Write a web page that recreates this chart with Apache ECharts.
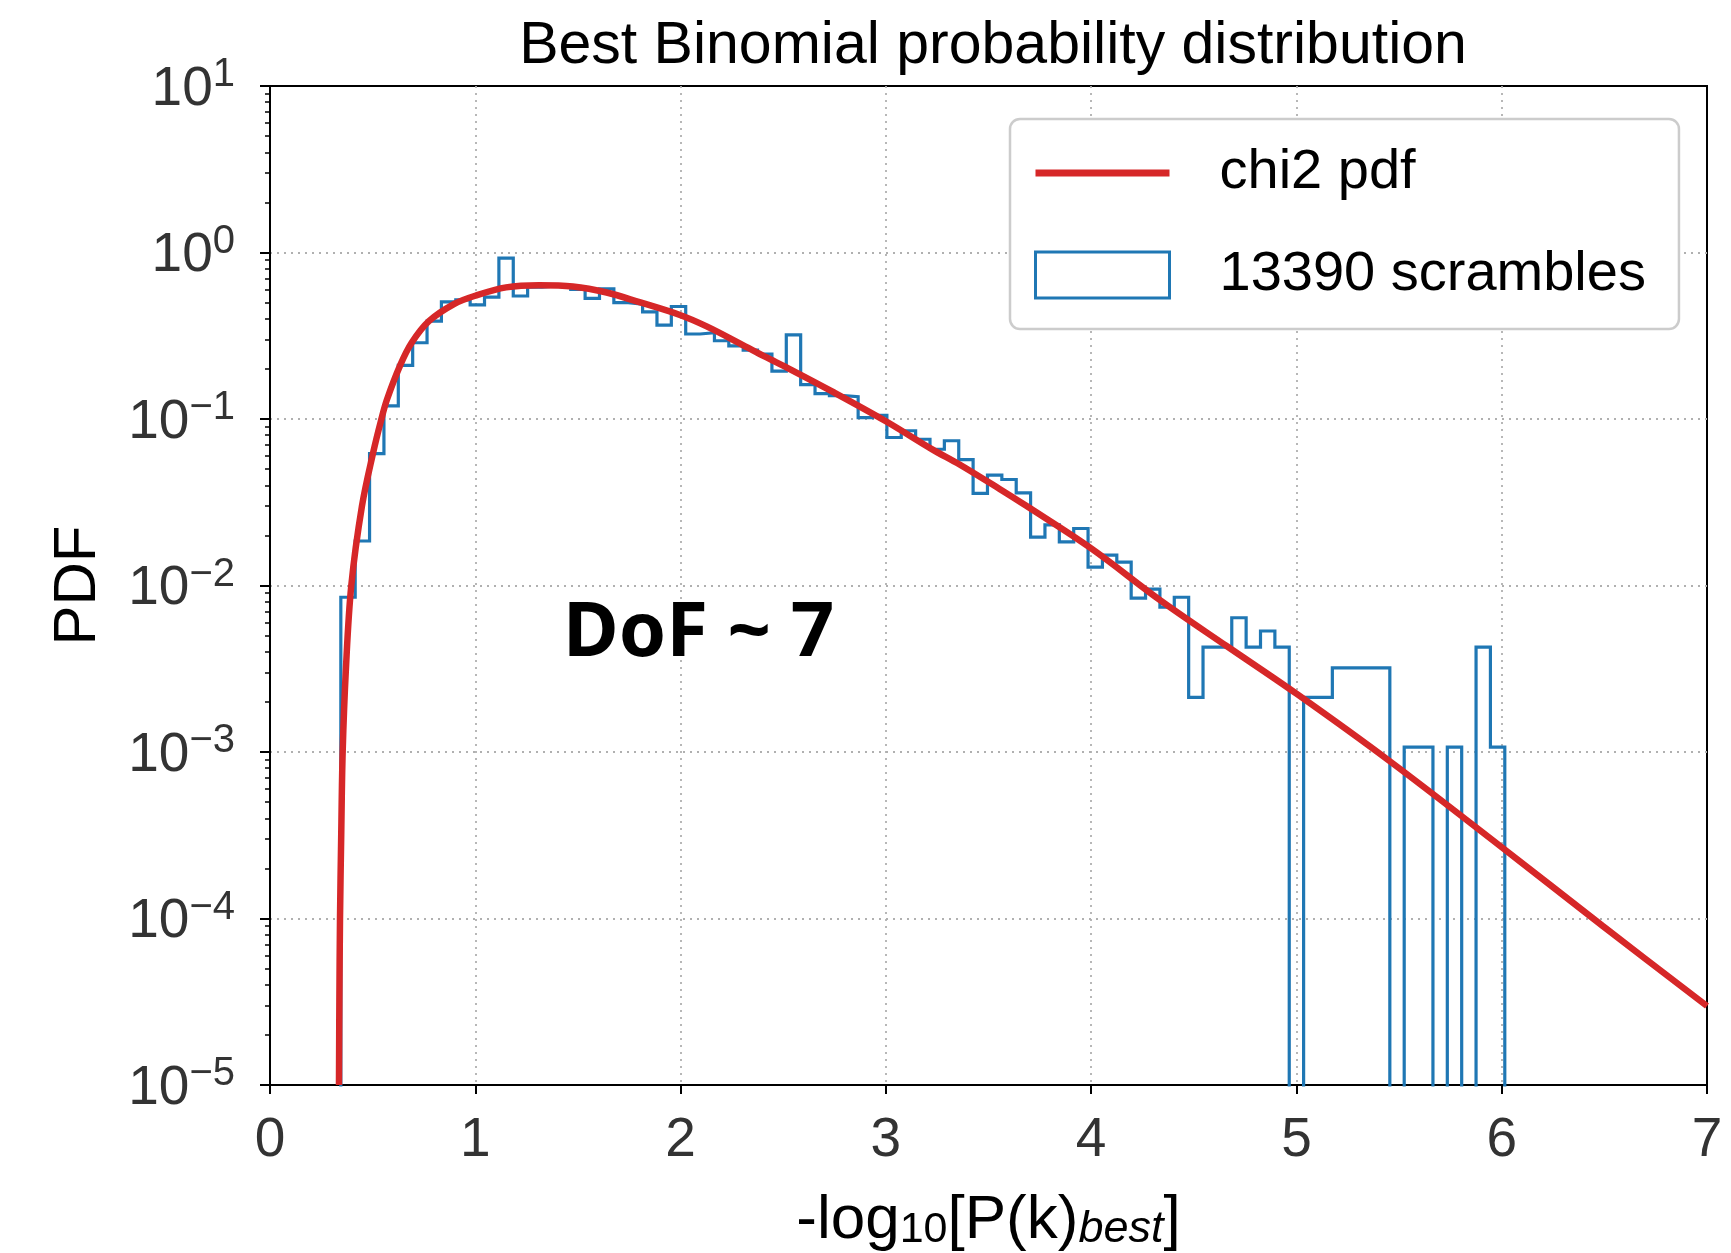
<!DOCTYPE html>
<html>
<head>
<meta charset="utf-8">
<script src="https://cdn.jsdelivr.net/npm/echarts@6/dist/echarts.min.js"></script>
<style>
  html, body { margin: 0; padding: 0; background: #fff; }
  #chart { width: 1731px; height: 1253px; }
</style>
</head>
<body>
<div id="chart"></div>
<script>
// ---------- data ----------
const titleText = 'Best Binomial probability distribution';
const xTickValues = [0, 1, 2, 3, 4, 5, 6, 7];
const yTickExponents = [-5, -4, -3, -2, -1, 0, 1];

// histogram: uniform bins, first edge and width (x units)
const binStart = 0.345;
const binWidth = 0.07;
// PDF value of each bin (0 = empty bin)
const histValues = [
  0.0085, 0.0185, 0.062, 0.120, 0.210, 0.287, 0.387, 0.505, 0.52, 0.485,
  0.54, 0.925, 0.548, 0.62, 0.63, 0.62, 0.60, 0.53, 0.605, 0.50,
  0.49, 0.44, 0.366, 0.474, 0.324, 0.33, 0.295, 0.275, 0.259, 0.245,
  0.194, 0.32, 0.161, 0.142, 0.138, 0.136, 0.102, 0.105, 0.0774, 0.085,
  0.0756, 0.0658, 0.074, 0.057, 0.0358, 0.046, 0.0433, 0.036, 0.0195, 0.0231,
  0.0183, 0.022, 0.0129, 0.0152, 0.0138, 0.0084, 0.0095, 0.0074, 0.0085, 0.00213,
  0.00427, 0.00427, 0.0064, 0.00427, 0.00533, 0.00427, 0, 0.00213, 0.00213, 0.0032,
  0.0032, 0.0032, 0.0032, 0, 0.00107, 0.00107, 0, 0.00107, 0, 0.00427,
  0.00107
];

// chi2 pdf curve
const curveX = [0.336, 0.338, 0.341, 0.347, 0.354, 0.37, 0.396, 0.448, 0.504, 0.54,
  0.569, 0.634, 0.69, 0.774, 0.896, 1.0, 1.15, 1.31, 1.475,
  1.64, 1.80, 2.0, 2.127, 2.29, 2.414, 2.52, 2.74, 3.0, 3.228,
  3.357, 3.554, 3.682, 4.0, 4.334, 4.66, 5.0, 5.455, 6.0, 6.493, 7.0];
const curveY = [1e-5, 3.2e-5, 1e-4, 3.2e-4, 1e-3, 3.2e-3, 0.01, 0.030, 0.064, 0.097,
  0.13, 0.21, 0.287, 0.387, 0.49, 0.55, 0.617, 0.636, 0.625,
  0.575, 0.503, 0.42, 0.36, 0.284, 0.236, 0.203, 0.146, 0.097, 0.0655,
  0.0535, 0.038, 0.0302, 0.0167, 0.0082, 0.00433, 0.00224, 8.8e-4, 2.68e-4, 9.0e-5, 2.98e-5];

const annotationText = 'DoF ~ 7';
const legendNames = ['chi2 pdf', '13390 scrambles'];

// ---------- build series data ----------
const yMin = 1e-5, yMax = 10;
const belowAxis = 1e-6; // empty bins drop below the axis and are clipped
const histPoints = [];
histValues.forEach((v, i) => {
  const left = binStart + i * binWidth;
  const right = left + binWidth;
  const val = v > 0 ? v : belowAxis;
  if (i === 0) histPoints.push([left, belowAxis]);
  histPoints.push([left, val]);
  histPoints.push([right, val]);
  if (i === histValues.length - 1) histPoints.push([right, belowAxis]);
});
const curvePoints = curveX.map((x, i) => [x, curveY[i]]);

// minor log ticks (positions in log10 space on a hidden linear axis)
const minorTicks = [];
for (let e = yTickExponents[0]; e < yTickExponents[yTickExponents.length - 1]; e++) {
  for (let k = 2; k <= 9; k++) minorTicks.push(e + Math.log10(k));
}

const FONT = '"Liberation Sans", "DejaVu Sans", sans-serif';
const chart = echarts.init(document.getElementById('chart'), null, { renderer: 'canvas' });

const supMap = (e) => (e < 0 ? '\u2212' + (-e) : String(e));
const gridLine = { show: true, showMinLine: false, showMaxLine: false,
  lineStyle: { color: '#b0b0b0', width: 1.8, type: [2, 5] } };

chart.setOption({
  animation: false,
  backgroundColor: '#ffffff',
  title: {
    text: titleText,
    left: 988, top: 12, textAlign: 'center',
    textStyle: { fontFamily: FONT, fontSize: 59, fontWeight: 'normal', color: '#000' }
  },
  grid: {
    left: 270, top: 86, width: 1437, height: 999,
    outerBoundsMode: 'none', containLabel: false,
    show: true, borderColor: '#000', borderWidth: 2, backgroundColor: 'transparent'
  },
  legend: {
    orient: 'vertical',
    left: 1010, top: 119,
    backgroundColor: '#fff',
    borderColor: '#cccccc', borderWidth: 2.5, borderRadius: 10,
    padding: [26, 33, 26, 24],
    itemWidth: 134, itemHeight: 46, itemGap: 46,
    textStyle: { fontFamily: FONT, fontSize: 56, color: '#000', padding: [0, 0, 0, 45] },
    data: [
      { name: legendNames[0], icon: 'path://M0,0H134V7H0Z', itemStyle: { color: '#d62728', borderWidth: 0 } },
      { name: legendNames[1], icon: 'rect', itemStyle: { color: '#ffffff', borderColor: '#1f77b4', borderWidth: 3 } }
    ]
  },
  xAxis: {
    type: 'value', min: 0, max: 7, interval: 1,
    name: '-log{sub|10}[P(k){it|best}]',
    nameLocation: 'middle', nameGap: 105,
    nameTextStyle: {
      fontFamily: FONT, fontSize: 62, color: '#000',
      rich: {
        sub: { fontFamily: FONT, fontSize: 43, color: '#000', verticalAlign: 'bottom', lineHeight: 43, padding: [17, 0, 0, 0] },
        it: { fontFamily: FONT, fontSize: 45, fontStyle: 'italic', color: '#000', verticalAlign: 'bottom', lineHeight: 45, padding: [17, 0, 0, 0] }
      }
    },
    axisLine: { show: true, onZero: false, lineStyle: { color: '#000', width: 2 } },
    axisTick: { show: true, inside: false, length: 9, lineStyle: { color: '#000', width: 2 } },
    axisLabel: { fontFamily: FONT, fontSize: 55, color: '#333', margin: 28 },
    splitLine: gridLine
  },
  yAxis: [
    {
      type: 'log', logBase: 10, min: yMin, max: yMax, splitNumber: 6,
      name: 'PDF', nameLocation: 'middle', nameGap: 162, nameRotate: 90,
      nameTextStyle: { fontFamily: FONT, fontSize: 60, color: '#000' },
      axisLine: { show: true, lineStyle: { color: '#000', width: 2 } },
      axisTick: { show: true, inside: false, length: 10, lineStyle: { color: '#000', width: 2 } },
      axisLabel: {
        margin: 35,
        formatter: (v) => {
          const e = Math.round(Math.log10(v));
          return '{b|10}{s|' + supMap(e) + '}';
        },
        rich: {
          b: { fontFamily: FONT, fontSize: 55, color: '#333', verticalAlign: 'bottom', lineHeight: 62 },
          s: { fontFamily: FONT, fontSize: 40, color: '#333', verticalAlign: 'top', lineHeight: 40 }
        }
      },
      splitLine: gridLine
    },
    {
      type: 'value', min: yTickExponents[0], max: yTickExponents[yTickExponents.length - 1],
      position: 'left', show: true,
      axisLine: { show: false },
      axisLabel: { show: false },
      splitLine: { show: false },
      axisTick: { show: true, inside: false, length: 5, customValues: minorTicks, lineStyle: { color: '#000', width: 1.5 } }
    }
  ],
  graphic: [
    {
      type: 'text', left: 563, top: 596, z: 100,
      style: { text: annotationText, fontFamily: '"Noto Sans", sans-serif', fontWeight: 'bold', fontSize: 76, fill: '#000' }
    }
  ],
  series: [
    {
      name: legendNames[1], type: 'line', yAxisIndex: 0,
      data: histPoints, symbol: 'none', clip: true, z: 2,
      lineStyle: { color: '#1f77b4', width: 3.2, join: 'miter' },
      itemStyle: { color: '#1f77b4' }
    },
    {
      name: legendNames[0], type: 'line', yAxisIndex: 0,
      data: curvePoints, symbol: 'none', smooth: 0.35, clip: true, z: 3,
      lineStyle: { color: '#d62728', width: 6.5 },
      itemStyle: { color: '#d62728' }
    }
  ]
});
</script>
</body>
</html>
